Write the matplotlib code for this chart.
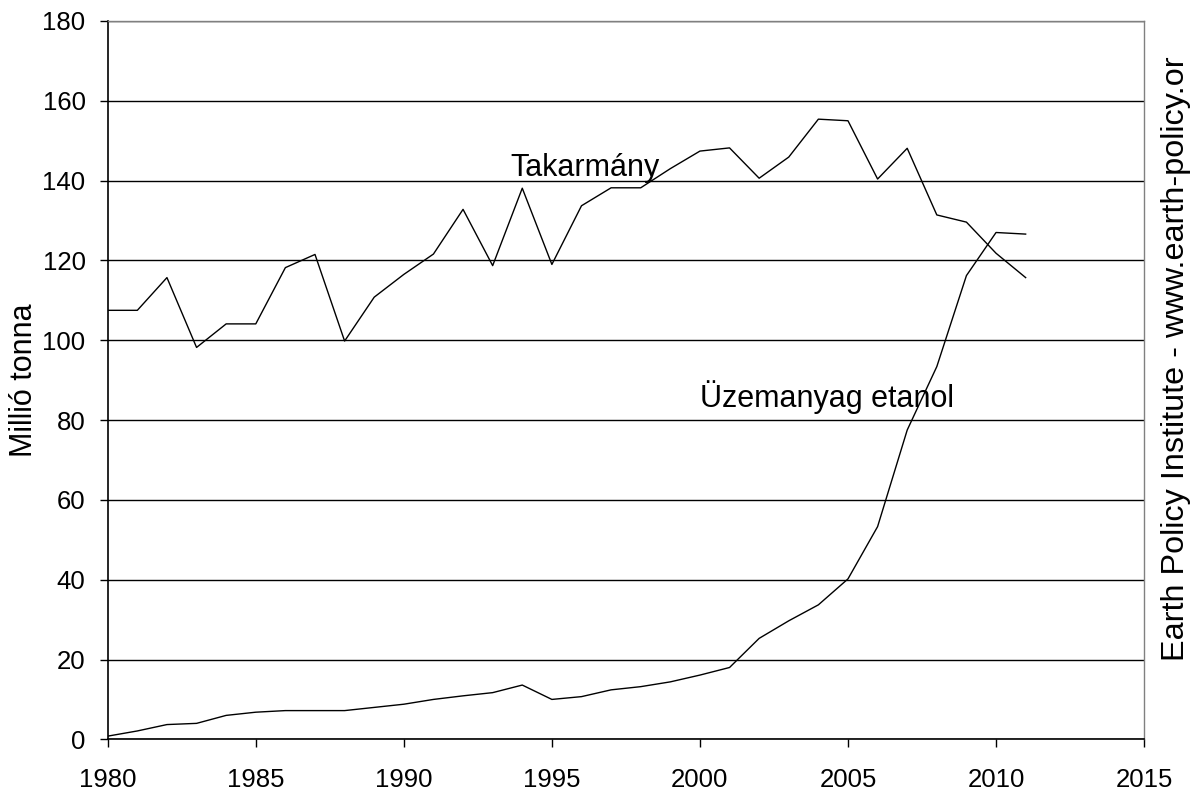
import matplotlib
matplotlib.use("Agg")
import matplotlib.pyplot as plt
import numpy as np

plt.rcParams['font.family'] = ['Liberation Sans', 'DejaVu Sans']

years = np.arange(1980, 2012)
feed = [107.5, 107.5, 115.7, 98.2, 104.1, 104.1, 118.2, 121.5, 99.8, 110.8,
        116.5, 121.6, 132.8, 118.7, 138.1, 119.0, 133.7, 138.2, 138.2, 143.0,
        147.4, 148.2, 140.6, 145.9, 155.4, 155.0, 140.4, 148.1, 131.4, 129.6,
        121.8, 115.7]
ethanol = [0.8, 2.1, 3.7, 4.0, 6.0, 6.8, 7.2, 7.2, 7.2, 8.0,
           8.8, 10.0, 10.9, 11.7, 13.6, 10.0, 10.7, 12.4, 13.2, 14.4,
           16.1, 18.0, 25.3, 29.7, 33.7, 40.2, 53.3, 77.5, 93.4, 116.2,
           127.0, 126.6]

fig = plt.figure(figsize=(11.93, 7.92), dpi=100)
ax = fig.add_axes([0.0903, 0.0665, 0.8687, 0.907])

ax.plot(years, feed, color='black', lw=1.0)
ax.plot(years, ethanol, color='black', lw=1.0)

ax.set_xlim(1980, 2015)
ax.set_ylim(0, 180)
ax.set_xticks(np.arange(1980, 2016, 5))
ax.set_yticks(np.arange(0, 181, 20))
ax.yaxis.grid(True, color='black', lw=1.0)
ax.set_axisbelow(True)

ax.tick_params(axis='both', direction='out', length=6, width=1.0,
               labelsize=18.5, color='black')
ax.tick_params(axis='y', pad=10)
ax.tick_params(axis='x', pad=15)
for s in ['left', 'bottom']:
    ax.spines[s].set_color('black')
    ax.spines[s].set_linewidth(1.2)
for s in ['top', 'right']:
    ax.spines[s].set_color('#808080')
    ax.spines[s].set_linewidth(1.0)

ax.set_ylabel('Millió tonna', fontsize=22)
ax.yaxis.set_label_coords(-0.066, 0.5)

ax.text(1993.6, 141.2, 'Takarmány', fontsize=22, va='baseline', ha='left')
ax.text(2000.0, 83.3, 'Üzemanyag etanol', fontsize=22, va='baseline', ha='left')

fig.text(0.9858, 1 - 661 / 792, 'Earth Policy Institute - www.earth-policy.or',
         rotation=90, fontsize=23.3, ha='center', va='bottom')

fig.savefig('out.png', dpi=100)
